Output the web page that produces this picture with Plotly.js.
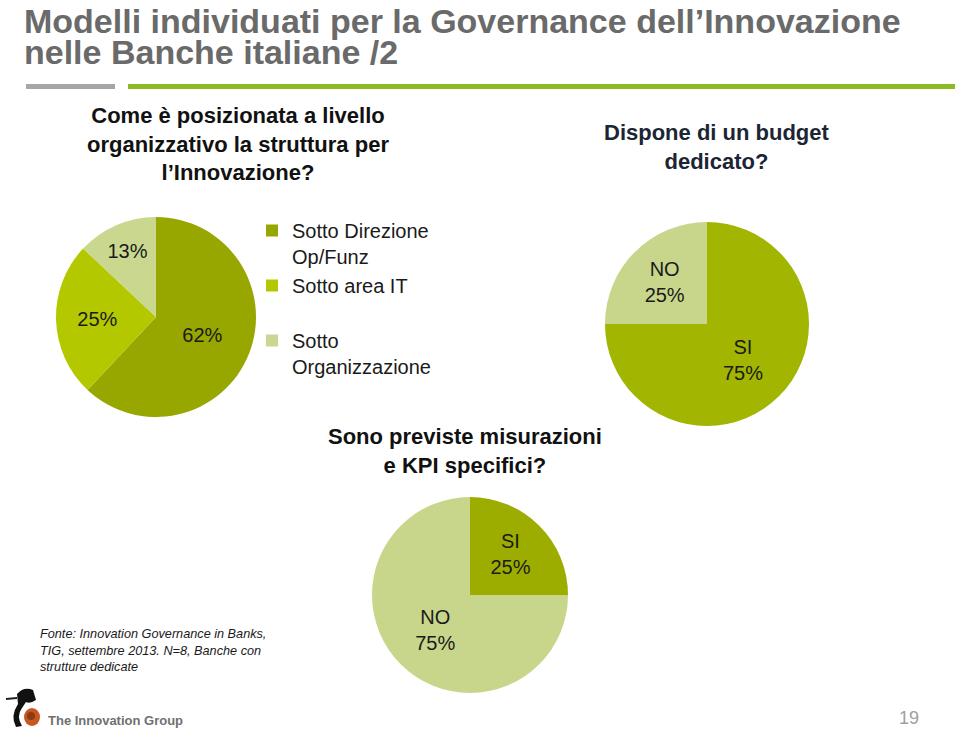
<!DOCTYPE html>
<html>
<head>
<meta charset="utf-8">
<script src="https://cdn.plot.ly/plotly-3.0.1.min.js"></script>
<style>html,body{margin:0;padding:0;background:#fff;}#chart{width:960px;height:732px;}</style>
</head>
<body>
<div id="chart"></div>
<script>
// ---- data ----
const struttLabels = ['Sotto Direzione<br>Op/Funz', 'Sotto area IT<br>&nbsp;', 'Sotto<br>Organizzazione'];
const struttValues = [62, 25, 13];
const struttColors = ['#97a700', '#b4c800', '#c9d78f'];

const budgetLabels = ['SI', 'NO'];
const budgetValues = [75, 25];
const budgetColors = ['#a2b500', '#c8d68b'];

const kpiLabels = ['SI', 'NO'];
const kpiValues = [25, 75];
const kpiColors = ['#9cad00', '#c7d68a'];

const titleLines = ['Modelli individuati per la Governance dell\u2019Innovazione', 'nelle Banche italiane /2'];
const q1 = 'Come è posizionata a livello<br>organizzativo la struttura per<br>l\u2019Innovazione?';
const q2 = 'Dispone di un budget<br>dedicato?';
const q3 = 'Sono previste misurazioni<br>e KPI specifici?';
const fonte = 'Fonte: Innovation Governance in Banks,<br>TIG, settembre 2013. N=8, Banche con<br>strutture dedicate';

// ---- helpers (pixel -> paper) ----
const W = 960, H = 732;
const px = x => x / W;
const py = y => 1 - y / H;

const pieCommon = {
  type: 'pie', sort: false, direction: 'clockwise', rotation: 0,
  textposition: 'inside', insidetextorientation: 'horizontal',
  insidetextfont: {family: 'Liberation Sans, Arial, sans-serif', size: 20, color: '#1a1a1a'},
  hoverinfo: 'none'
};

const data = [
  Object.assign({}, pieCommon, {
    labels: struttLabels, values: struttValues, marker: {colors: struttColors, line: {width: 0}},
    texttemplate: '%{value}%',
    domain: {x: [px(56), px(256)], y: [py(417), py(217)]},
    showlegend: true
  }),
  Object.assign({}, pieCommon, {
    labels: budgetLabels, values: budgetValues, marker: {colors: budgetColors, line: {width: 0}},
    texttemplate: '%{label}<br>%{value}%',
    domain: {x: [px(605), px(809)], y: [py(426), py(222)]},
    showlegend: false
  }),
  Object.assign({}, pieCommon, {
    labels: kpiLabels, values: kpiValues, marker: {colors: kpiColors, line: {width: 0}},
    texttemplate: '%{label}<br>%{value}%',
    domain: {x: [px(372), px(568)], y: [py(693), py(497)]},
    showlegend: false
  })
];

const titleFont = {family: 'Liberation Sans, Arial, sans-serif', size: 34, color: '#6a6a6a'};
const annFont = {family: 'Liberation Sans, Arial, sans-serif', size: 22, color: '#111111'};
const annotations = [
  {text: '<b>' + titleLines[0] + '</b>', x: px(22), y: py(0), xanchor: 'left', yanchor: 'top',
   xref: 'paper', yref: 'paper', showarrow: false, font: titleFont},
  {text: '<b>' + titleLines[1] + '</b>', x: px(22), y: py(31), xanchor: 'left', yanchor: 'top',
   xref: 'paper', yref: 'paper', showarrow: false, font: titleFont},
  {text: '<b>' + q1 + '</b>', x: px(238), y: py(144), xanchor: 'center', yanchor: 'middle', align: 'center',
   xref: 'paper', yref: 'paper', showarrow: false, font: annFont},
  {text: '<b>' + q2 + '</b>', x: px(717), y: py(147), xanchor: 'center', yanchor: 'middle', align: 'center',
   xref: 'paper', yref: 'paper', showarrow: false, font: Object.assign({}, annFont, {color: '#1c2533'})},
  {text: '<b>' + q3 + '</b>', x: px(465), y: py(451), xanchor: 'center', yanchor: 'middle', align: 'center',
   xref: 'paper', yref: 'paper', showarrow: false, font: annFont},
  {text: '<i>' + fonte + '</i>', x: px(38), y: py(650), xanchor: 'left', yanchor: 'middle', align: 'left',
   xref: 'paper', yref: 'paper', showarrow: false,
   font: {family: 'Liberation Sans, Arial, sans-serif', size: 12.7, color: '#1a1a1a'}},
  {text: '<b>The Innovation Group</b>', x: px(46), y: py(720), xanchor: 'left', yanchor: 'middle',
   xref: 'paper', yref: 'paper', showarrow: false,
   font: {family: 'Liberation Sans, Arial, sans-serif', size: 13, color: '#707070'}},
  {text: '19', x: px(909), y: py(718), xanchor: 'center', yanchor: 'middle',
   xref: 'paper', yref: 'paper', showarrow: false,
   font: {family: 'Liberation Sans, Arial, sans-serif', size: 18, color: '#a0a0a0'}}
];

const P = (x, y) => px(x) + ',' + py(y);
const shapes = [
  // header rules
  {type: 'rect', xref: 'paper', yref: 'paper', x0: px(26), x1: px(115), y0: py(89), y1: py(84),
   fillcolor: '#a6a6a6', line: {width: 0}},
  {type: 'rect', xref: 'paper', yref: 'paper', x0: px(128), x1: px(955), y0: py(89), y1: py(84),
   fillcolor: '#8cba22', line: {width: 0}},
  // logo mark (simplified)
  {type: 'path', xref: 'paper', yref: 'paper',
   path: 'M ' + P(17, 694) + ' Q ' + P(24, 686) + ' ' + P(33, 690) + ' L ' + P(36, 700) +
         ' Q ' + P(30, 704) + ' ' + P(26, 702) + ' L ' + P(22, 708) + ' Q ' + P(16, 716) + ' ' + P(22, 726) +
         ' L ' + P(16, 727) + ' Q ' + P(10, 716) + ' ' + P(18, 704) + ' Z',
   fillcolor: '#111111', line: {width: 0}},
  {type: 'path', xref: 'paper', yref: 'paper',
   path: 'M ' + P(6, 699) + ' L ' + P(17, 698), line: {color: '#222222', width: 2}},
  {type: 'circle', xref: 'paper', yref: 'paper', x0: px(24), x1: px(40), y0: py(726), y1: py(708),
   fillcolor: '#c8561e', line: {width: 0}},
  {type: 'circle', xref: 'paper', yref: 'paper', x0: px(27), x1: px(35), y0: py(720), y1: py(712),
   fillcolor: '#8a3b1a', line: {width: 0}}
];

const layout = {
  width: W, height: H,
  margin: {l: 0, r: 0, t: 0, b: 0},
  paper_bgcolor: '#ffffff', plot_bgcolor: '#ffffff',
  showlegend: true,
  legend: {x: px(252), y: py(211), xanchor: 'left', yanchor: 'top', xref: 'paper', yref: 'paper',
           valign: 'top', traceorder: 'normal', bgcolor: 'rgba(0,0,0,0)', borderwidth: 0,
           font: {family: 'Liberation Sans, Arial, sans-serif', size: 20, color: '#1a1a1a'}},
  annotations: annotations,
  shapes: shapes
};

Plotly.newPlot('chart', data, layout, {displayModeBar: false, staticPlot: true});
</script>
</body>
</html>
